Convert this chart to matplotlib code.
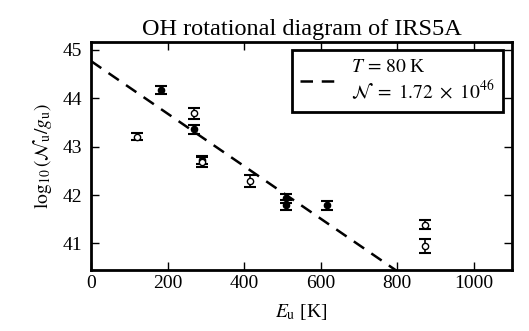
import numpy as np
import matplotlib
matplotlib.use("Agg")
import matplotlib.pyplot as plt

plt.rcParams['font.family'] = ['Liberation Serif', 'DejaVu Serif']
plt.rcParams['mathtext.fontset'] = 'stix'

# Data
e_filled = [183, 270, 290, 510, 510, 617]
n_filled = [44.17, 43.36, 42.72, 41.93, 41.80, 41.79]
err_filled = [0.08, 0.09, 0.08, 0.09, 0.1, 0.09]

e_open = [120, 268, 290, 415, 873, 873]
n_open = [43.21, 43.69, 42.68, 42.29, 41.39, 40.95]
err_open = [0.07, 0.12, 0.1, 0.13, 0.1, 0.15]

# fit: T = 80 K, intercept
T_fit = 80.0
intercept = 44.77

fig = plt.figure(figsize=(5.29, 3.31), dpi=100)
ax = fig.add_axes([0.172, 0.184, 0.796, 0.690])

x_fit = np.array([0, 1100])
y_fit = intercept - np.log10(np.e) / T_fit * x_fit
ax.plot(x_fit, y_fit, 'k--', lw=1.8, dashes=(5, 3.5),
        label='$T\\,=\\,80$ K\n$\\mathcal{N}\\ =\\ 1.72\\ \\times\\ 10^{46}$')

ax.errorbar(e_filled, n_filled, yerr=err_filled, fmt='o', color='k',
            mfc='k', ms=4.5, capsize=4.5, elinewidth=1.2, capthick=1.5)
ax.errorbar(e_open, n_open, yerr=err_open, fmt='o', color='k',
            mfc='white', ms=4.5, capsize=4.5, elinewidth=1.2, capthick=1.5)

ax.set_xlim(0, 1100)
ax.set_ylim(40.45, 45.17)
ax.set_xticks([0, 200, 400, 600, 800, 1000])
ax.set_yticks([41, 42, 43, 44, 45])
ax.tick_params(direction='in', top=True, right=True, length=6, width=1, labelsize=14)
ax.tick_params(axis='y', pad=6.5)
for s in ax.spines.values():
    s.set_linewidth(2)

ax.set_xlabel('$E_{\\mathrm{u}}$ [K]', fontsize=14, labelpad=7)
ax.set_ylabel('$\\log_{10}(\\mathcal{N}_{\\mathrm{u}}/g_{\\mathrm{u}})$', fontsize=14, labelpad=6)
ax.set_title('OH rotational diagram of IRS5A', fontsize=17.5, pad=5)

leg = ax.legend(loc='upper right', fancybox=False, framealpha=1,
                edgecolor='k', fontsize=14, handlelength=2.0,
                handletextpad=0.6, borderaxespad=0.45, borderpad=0.45)
leg.get_frame().set_linewidth(2)

fig.savefig('out.png', dpi=100)
